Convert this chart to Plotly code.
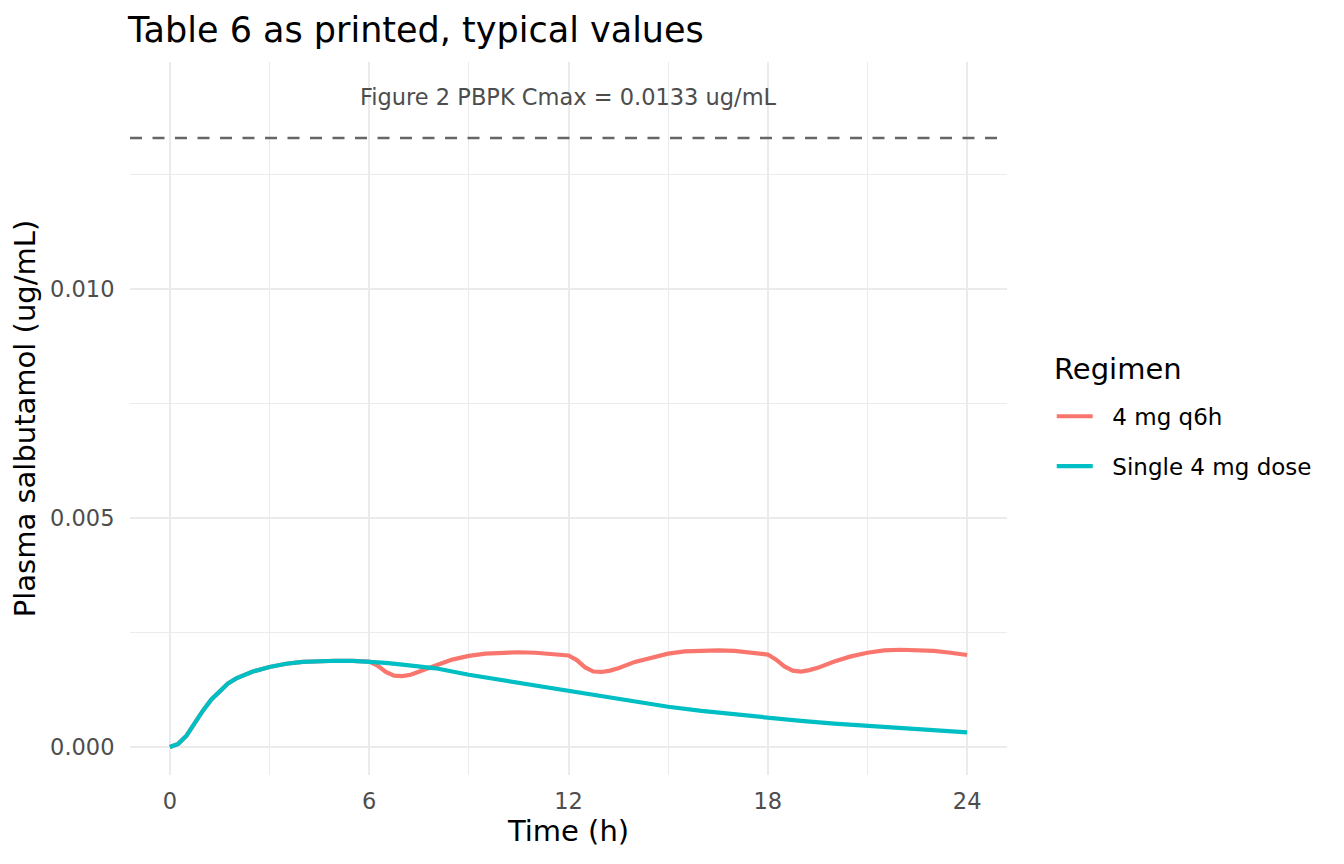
import plotly.graph_objects as go

# time grid (h) and concentrations (ug/mL)
time_single = [0, 0.25, 0.5, 0.75, 1.0, 1.25, 1.5, 1.75, 2.0, 2.5, 3.0, 3.5, 4.0, 4.5,
               5.0, 5.5, 6.0, 6.5, 7.0, 7.5, 8.0, 9.0, 10.0, 11.0, 12.0, 13.0, 14.0,
               15.0, 16.0, 17.0, 18.0, 19.0, 20.0, 21.0, 22.0, 23.0, 24.0]
conc_single = [0.0, 0.00007, 0.00025, 0.00053, 0.00080, 0.00104, 0.00123, 0.00139,
               0.00150, 0.00165, 0.00175, 0.00182, 0.00186, 0.00188, 0.001885, 0.00188,
               0.001865, 0.00184, 0.00180, 0.00176, 0.00172, 0.00158, 0.00146, 0.00135,
               0.00124, 0.00111, 0.00099, 0.00088, 0.00079, 0.00071, 0.00064, 0.00057,
               0.00051, 0.00046, 0.00041, 0.00036, 0.00032]

time_q6h = [0, 0.25, 0.5, 0.75, 1.0, 1.25, 1.5, 1.75, 2.0, 2.5, 3.0, 3.5, 4.0, 4.5,
            5.0, 5.5, 6.0, 6.25, 6.5, 6.75, 7.0, 7.25, 7.5, 8.0, 8.5, 9.0, 9.5, 10.0,
            10.5, 11.0, 11.5, 12.0, 12.25, 12.5, 12.75, 13.0, 13.25, 13.5, 14.0, 14.5,
            15.0, 15.5, 16.0, 16.5, 17.0, 17.5, 18.0, 18.25, 18.5, 18.75, 19.0, 19.25,
            19.5, 20.0, 20.5, 21.0, 21.5, 22.0, 22.5, 23.0, 23.5, 24.0]
conc_q6h = [0.0, 0.00007, 0.00025, 0.00053, 0.00080, 0.00104, 0.00123, 0.00139,
            0.00150, 0.00165, 0.00175, 0.00182, 0.00186, 0.00188, 0.001885, 0.00188,
            0.001865, 0.00178, 0.00164, 0.00156, 0.00155, 0.00158, 0.00164, 0.00178,
            0.00191, 0.00199, 0.00204, 0.00206, 0.00207, 0.00206, 0.00204, 0.00200,
            0.00190, 0.00174, 0.00165, 0.00164, 0.00167, 0.00172, 0.00186, 0.00196,
            0.00204, 0.00209, 0.00211, 0.00211, 0.00210, 0.00207, 0.00202, 0.00191,
            0.00176, 0.00167, 0.00165, 0.00168, 0.00173, 0.00187, 0.00198, 0.00206,
            0.00211, 0.002125, 0.00212, 0.00210, 0.00206, 0.00201]

regimens = ["4 mg q6h", "Single 4 mg dose"]
colors = ["#F8766D", "#00BFC4"]

cmax_ref = 0.0133
cmax_label = "Figure 2 PBPK Cmax = 0.0133 ug/mL"
label_x = 12
label_y = 0.0142

x_ticks = [0, 6, 12, 18, 24]
y_ticks = [0.0, 0.005, 0.010]

FONT = "DejaVu Sans"
W, H = 1336, 856  # page adds an 8px body margin
PAD = "\u00a0\u00a0"  # gap between legend key and label

fig = go.Figure()

# q6h regimen
fig.add_trace(go.Scatter(
    x=time_q6h, y=conc_q6h, mode="lines", name=PAD + regimens[0],
    line=dict(color=colors[0], width=4.2), legendgroup="a"
))
# single dose
fig.add_trace(go.Scatter(
    x=time_single, y=conc_single, mode="lines", name=PAD + regimens[1],
    line=dict(color=colors[1], width=4.2), legendgroup="b"
))

# reference Cmax line + label
fig.add_hline(y=cmax_ref, line=dict(color="#666666", width=2.6, dash="12px,10.5px"))
fig.add_annotation(x=label_x, y=label_y, text=cmax_label, showarrow=False,
                   font=dict(family=FONT, size=22.5, color="#4D4D4D"))

# legend title, placed like ggplot's
fig.add_annotation(x=1.0513, y=0.5694, xref="paper", yref="paper", text="Regimen",
                   showarrow=False, xanchor="left", yanchor="middle",
                   font=dict(family=FONT, size=29, color="black"))

grid_major = "#EBEBEB"

fig.update_xaxes(
    range=[-1.2, 25.2], tickvals=x_ticks, ticktext=[str(v) for v in x_ticks],
    showgrid=True, gridcolor=grid_major, gridwidth=2, zeroline=False,
    showline=False, ticks="outside", ticklen=6, tickcolor="rgba(0,0,0,0)",
    tickfont=dict(family=FONT, size=22.5, color="#4D4D4D"),
    title=dict(text="Time (h)", font=dict(family=FONT, size=29, color="black"), standoff=2),
    minor=dict(tickvals=[3, 9, 15, 21], showgrid=True, gridcolor=grid_major, gridwidth=1)
)
fig.update_yaxes(
    range=[-0.00061, 0.01496], tickvals=y_ticks, ticktext=["0.000", "0.005", "0.010"],
    showgrid=True, gridcolor=grid_major, gridwidth=2, zeroline=False,
    showline=False, ticks="outside", ticklen=10, tickcolor="rgba(0,0,0,0)",
    tickfont=dict(family=FONT, size=22.5, color="#4D4D4D"),
    title=dict(text="Plasma salbutamol (ug/mL)", font=dict(family=FONT, size=29, color="black"), standoff=8),
    minor=dict(tickvals=[0.0025, 0.0075, 0.0125], showgrid=True, gridcolor=grid_major, gridwidth=1)
)

fig.update_layout(
    width=W, height=H,
    paper_bgcolor="white", plot_bgcolor="white",
    margin=dict(l=122, r=337, t=54, b=89),
    font=dict(family=FONT),
    title=dict(text="Table 6 as printed, typical values", x=120 / W, xref="container",
               xanchor="left", y=1 - 22 / H, yref="container", yanchor="middle",
               font=dict(family=FONT, size=35, color="black")),
    legend=dict(
        font=dict(family=FONT, size=23, color="black"),
        x=1.051, xanchor="left", y=0.468, yanchor="middle",
        tracegroupgap=17, itemwidth=36, bgcolor="rgba(0,0,0,0)"
    ),
    showlegend=True,
)

fig.write_html("out.html")
